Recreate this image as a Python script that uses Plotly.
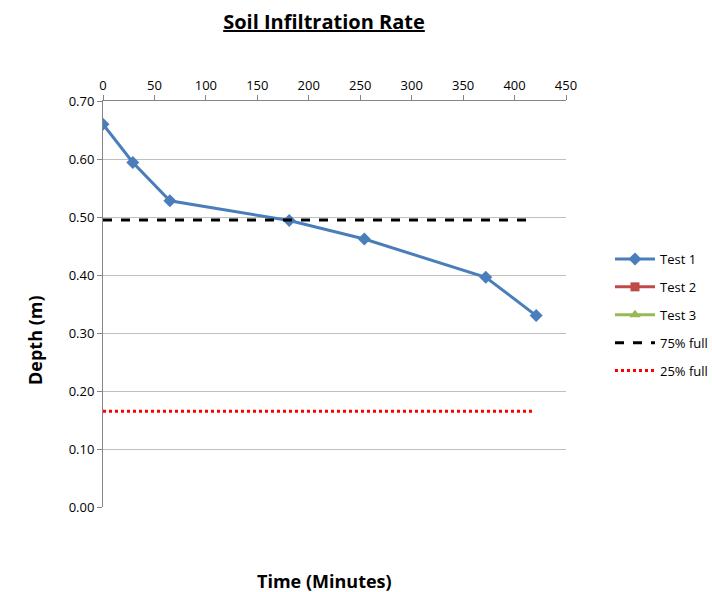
import plotly.graph_objects as go

time_min = [0, 29, 65, 181, 254, 372, 421]
test1_depth = [0.660, 0.594, 0.528, 0.494, 0.462, 0.396, 0.330]
full75_x = [0, 419]
full75_y = [0.495, 0.495]
full25_x = [0, 418]
full25_y = [0.165, 0.165]
x_ticks = [0, 50, 100, 150, 200, 250, 300, 350, 400, 450]
y_ticks = [0.0, 0.1, 0.2, 0.3, 0.4, 0.5, 0.6, 0.7]

FONT = "Open Sans"
fig = go.Figure()
fig.add_trace(go.Scatter(x=time_min, y=test1_depth, mode="lines+markers", name="Test 1",
                         legendgroup="a",
                         line=dict(color="#4a7ebb", width=3),
                         marker=dict(symbol="diamond", size=10, color="#4a7ebb")))
fig.add_trace(go.Scatter(x=[None], y=[None], mode="lines+markers", name="Test 2",
                         legendgroup="b",
                         line=dict(color="#be4b48", width=3),
                         marker=dict(symbol="square", size=9, color="#be4b48")))
fig.add_trace(go.Scatter(x=[None], y=[None], mode="lines+markers", name="Test 3",
                         legendgroup="c",
                         line=dict(color="#98b954", width=3),
                         marker=dict(symbol="triangle-up", size=10, color="#98b954")))
fig.add_trace(go.Scatter(x=full75_x, y=full75_y, mode="lines", name="75% full",
                         legendgroup="d",
                         line=dict(color="black", width=3, dash="dash")))
fig.add_trace(go.Scatter(x=full25_x, y=full25_y, mode="lines", name="25% full",
                         legendgroup="e",
                         line=dict(color="#ff0000", width=3, dash="dot")))

fig.update_layout(
    width=712, height=592,
    margin=dict(l=103, r=146, t=101, b=85, autoexpand=False),
    paper_bgcolor="white", plot_bgcolor="white",
    font=dict(family=FONT, size=13, color="black"),
    title=dict(text="<b><u>Soil Infiltration Rate</u></b>", x=324/712, xanchor="center",
               y=1 - 22/592, yanchor="middle", font=dict(size=20, family=FONT)),
    xaxis=dict(range=[0, 450], tickvals=x_ticks, side="top", showgrid=False,
               showline=True, linecolor="#868686", linewidth=1,
               ticks="outside", ticklen=5, tickcolor="#868686",
               zeroline=False, tickfont=dict(size=13), automargin=False),
    yaxis=dict(range=[0, 0.7], tickvals=y_ticks, tickformat=".2f",
               showgrid=True, gridcolor="#bfbfbf", gridwidth=1,
               showline=True, linecolor="#868686", linewidth=1,
               ticks="outside", ticklen=5, tickcolor="#868686",
               zeroline=False, tickfont=dict(size=13), automargin=False),
    legend=dict(xref="container", yref="container",
                x=610 / 712, xanchor="left", y=1 - 244 / 592, yanchor="top",
                font=dict(size=13), tracegroupgap=8, itemwidth=40,
                bgcolor="rgba(0,0,0,0)"),
    showlegend=True,
)
fig.add_annotation(text="<b>Depth (m)</b>", xref="paper", yref="paper",
                   x=(35 - 103) / 463, y=(507 - 340) / 406, xanchor="center", yanchor="middle",
                   textangle=-90, showarrow=False, font=dict(size=18, family=FONT))
fig.add_annotation(text="<b>Time (Minutes)</b>", xref="paper", yref="paper",
                   x=(324 - 103) / 463, y=-74 / 406, xanchor="center", yanchor="middle",
                   showarrow=False, font=dict(size=18, family=FONT))
fig.write_html("out.html")
